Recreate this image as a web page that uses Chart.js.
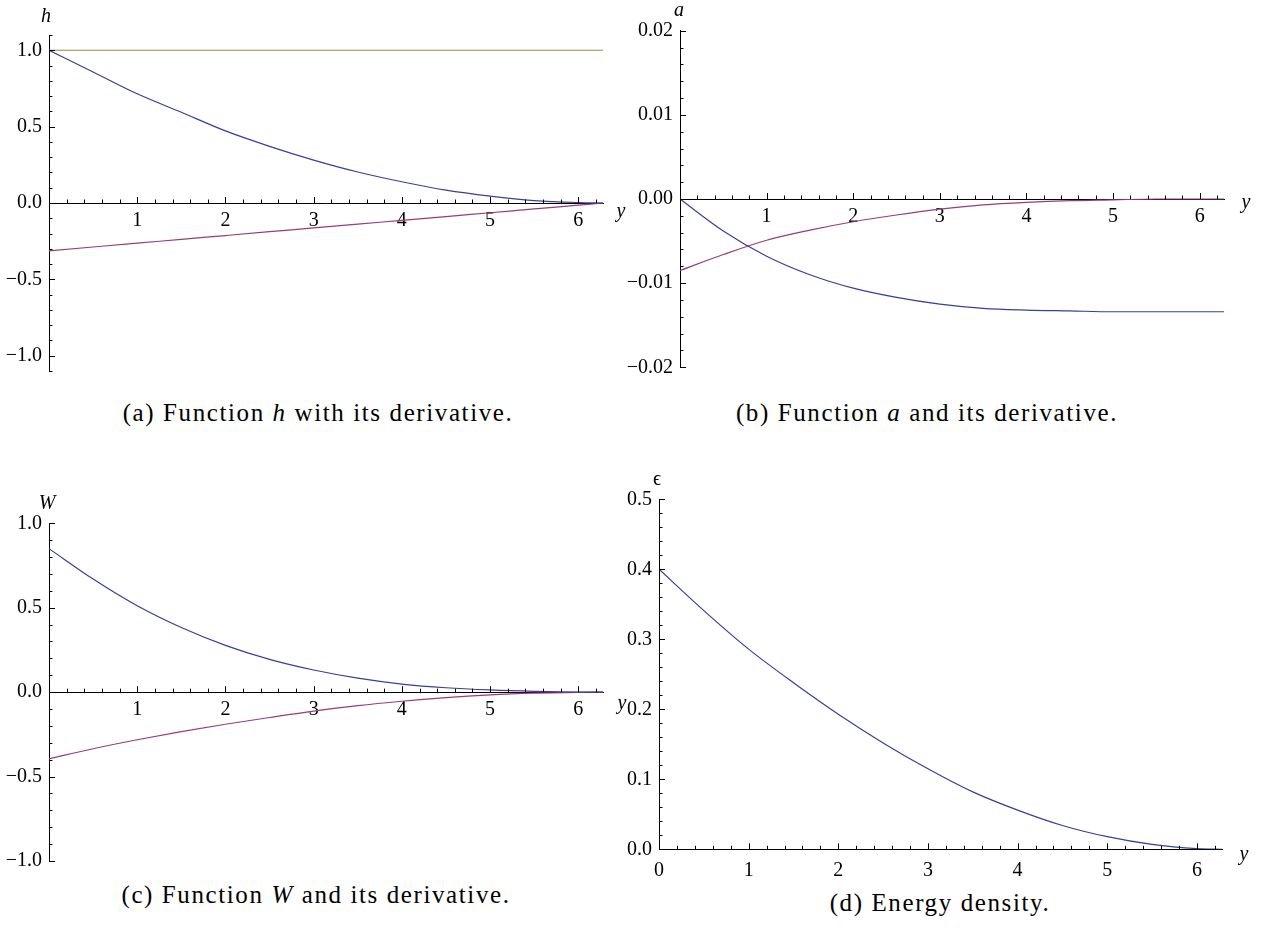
<!DOCTYPE html>
<html>
<head>
<meta charset="utf-8">
<script src="https://cdn.jsdelivr.net/npm/chart.js@4.4.0/dist/chart.umd.min.js"></script>
<style>
body { margin: 0; background: #fff; width: 1266px; height: 934px; position: relative; overflow: hidden; font-family: "Liberation Serif", "Times New Roman", serif; }
canvas { position: absolute; }
.lab { position: absolute; font-style: italic; font-size: 20px; transform: translate(-50%, -50%); white-space: nowrap; }
.cap { position: absolute; font-size: 25px; transform: translate(-50%, -50%); white-space: nowrap; letter-spacing: 1.6px; }
</style>
</head>
<body>
<canvas id="ca" width="633" height="390" style="left:0;top:0"></canvas>
<canvas id="cb" width="651" height="390" style="left:615px;top:0"></canvas>
<canvas id="cc" width="633" height="400" style="left:0;top:480px"></canvas>
<canvas id="cd" width="656" height="420" style="left:610px;top:460px"></canvas>

<div class="lab" style="left:46px;top:15px">h</div>
<div class="lab" style="left:621px;top:210px">y</div>
<div class="lab" style="left:679px;top:9px">a</div>
<div class="lab" style="left:1246px;top:201px">y</div>
<div class="lab" style="left:47px;top:502px">W</div>
<div class="lab" style="left:622px;top:702px">y</div>
<div class="lab" style="left:657px;top:478px;font-style:normal">ϵ</div>
<div class="lab" style="left:1244px;top:853px">y</div>

<div class="cap" style="left:318px;top:413px">(a) Function <i>h</i> with its derivative.</div>
<div class="cap" style="left:927px;top:413px">(b) Function <i>a</i> and its derivative.</div>
<div class="cap" style="left:316px;top:895px">(c) Function <i>W</i> and its derivative.</div>
<div class="cap" style="left:940px;top:903px">(d) Energy density.</div>

<script>
// sample positions along y (0 .. 2π)
const ys = [0, 0.5, 1, 1.5, 2, 2.5, 3, 3.5, 4, 4.5, 5, 5.5, 6, 6.28];

// (a) h, h' and the constant 1
const hVals  = [1.0, 0.858, 0.715, 0.594, 0.472, 0.371, 0.281, 0.203, 0.139, 0.084, 0.045, 0.016, 0.003, 0];
const hDeriv = [-0.313, -0.288, -0.263, -0.238, -0.213, -0.188, -0.163, -0.138, -0.114, -0.089, -0.064, -0.039, -0.014, 0];
const hOne   = [1, 1, 1, 1, 1, 1, 1, 1, 1, 1, 1, 1, 1, 1];

// (b) a, a'
const aVals  = [0, -0.0038, -0.0068, -0.0090, -0.0106, -0.0117, -0.0125, -0.0130, -0.0132, -0.0133, -0.0134, -0.0134, -0.0134, -0.0134];
const aDeriv = [-0.0085, -0.0066, -0.0049, -0.0037, -0.0027, -0.0019, -0.0012, -0.0007, -0.0004, -0.0002, -0.0001, 0, 0, 0];

// (c) W, W'
const wVals  = [0.850, 0.670, 0.512, 0.383, 0.277, 0.194, 0.131, 0.083, 0.048, 0.026, 0.013, 0.005, 0.001, 0];
const wDeriv = [-0.395, -0.335, -0.282, -0.234, -0.190, -0.150, -0.112, -0.080, -0.054, -0.032, -0.016, -0.006, -0.001, 0];

// (d) energy density
const eVals  = [0.400, 0.341, 0.286, 0.238, 0.193, 0.152, 0.115, 0.082, 0.056, 0.034, 0.018, 0.007, 0.001, 0];

// tick labels
const xTicks  = [1, 2, 3, 4, 5, 6];
const xTicksD = [0, 1, 2, 3, 4, 5, 6];
const yTicksA = [-1, -0.5, 0, 0.5, 1];
const yTicksB = [-0.02, -0.01, 0, 0.01, 0.02];
const yTicksC = [-1, -0.5, 0, 0.5, 1];
const yTicksD = [0, 0.1, 0.2, 0.3, 0.4, 0.5];

const blue = 'rgb(61,61,153)';
const magenta = 'rgb(153,61,113)';
const olive = 'rgb(153,140,61)';
const tickFont = { family: "'Liberation Serif', 'Times New Roman', serif", size: 20 };

function pts(vals) {
  return ys.map((v, i) => ({ x: v, y: vals[i] }));
}

function series(vals, color) {
  return {
    data: pts(vals), borderColor: color, borderWidth: 1.2,
    pointRadius: 0, fill: false, cubicInterpolationMode: 'monotone'
  };
}

// Mathematica style inward ticks, major + minor
const tickMarks = {
  id: 'tickMarks',
  afterDraw(chart, args, o) {
    const { ctx, chartArea } = chart;
    const x = chart.scales.x, y = chart.scales.y;
    const axisY = o.bottomAxis ? chartArea.bottom : y.getPixelForValue(0);
    const axisX = chartArea.left;
    ctx.save();
    ctx.strokeStyle = '#000';
    ctx.lineWidth = 1;
    ctx.beginPath();
    const nx = Math.floor(x.max / o.xMinor + 1e-6);
    for (let k = 1; k <= nx; k++) {
      const v = k * o.xMinor;
      const major = Math.abs(v - Math.round(v)) < 1e-6;
      const px = Math.round(x.getPixelForValue(v)) + 0.5;
      ctx.moveTo(px, axisY);
      ctx.lineTo(px, axisY - (major ? 6 : 3.5));
    }
    const k0 = Math.ceil(y.min / o.yMinor - 1e-6);
    const k1 = Math.floor(y.max / o.yMinor + 1e-6);
    for (let k = k0; k <= k1; k++) {
      const v = k * o.yMinor;
      const r = v / o.yMajor;
      const major = Math.abs(r - Math.round(r)) < 1e-6;
      const py = Math.round(y.getPixelForValue(v)) + 0.5;
      ctx.moveTo(axisX, py);
      ctx.lineTo(axisX + (major ? 6 : 3.5), py);
    }
    ctx.stroke();
    ctx.restore();
  }
};

function makeChart(id, datasets, s) {
  const minus = t => t.replace('-', '\u2212');
  new Chart(document.getElementById(id), {
    type: 'line',
    data: { datasets: datasets },
    options: {
      responsive: false,
      animation: false,
      layout: { padding: s.padding },
      plugins: {
        legend: { display: false },
        tooltip: { enabled: false },
        tickMarks: s.marks
      },
      scales: {
        x: {
          type: 'linear', min: 0, max: 6.28,
          position: s.marks.bottomAxis ? 'bottom' : { y: 0 },
          afterBuildTicks: sc => { sc.ticks = s.xTicks.map(v => ({ value: v })); },
          afterFit: sc => { if (s.xHeight) sc.height = s.xHeight; },
          ticks: {
            font: tickFont, color: '#000', padding: s.xPad,
            maxRotation: 0, autoSkip: false,
            callback: v => String(v)
          },
          grid: { display: true, drawOnChartArea: false, drawTicks: false },
          border: { color: '#000', width: 1 }
        },
        y: {
          type: 'linear', min: s.yMin, max: s.yMax, position: 'left',
          afterBuildTicks: sc => { sc.ticks = s.yTicks.map(v => ({ value: v })); },
          afterFit: sc => { sc.width = s.yWidth; },
          ticks: {
            font: tickFont, color: '#000', padding: 7, autoSkip: false,
            callback: v => minus(Number(v).toFixed(s.dec))
          },
          grid: { display: true, drawOnChartArea: false, drawTicks: false },
          border: { color: '#000', width: 1 }
        }
      }
    },
    plugins: [tickMarks]
  });
}

makeChart('ca', [series(hOne, olive), series(hVals, blue), series(hDeriv, magenta)], {
  padding: { top: 35, bottom: 12.3, right: 30, left: 0 },
  yMin: -1.1, yMax: 1.1, yTicks: yTicksA, yWidth: 49, dec: 1,
  xTicks: xTicks, xPad: 6,
  marks: { xMinor: 0.2, yMinor: 0.1, yMajor: 0.5 }
});

makeChart('cb', [series(aVals, blue), series(aDeriv, magenta)], {
  padding: { top: 30.7, bottom: 22.7, right: 42, left: 0 },
  yMin: -0.02, yMax: 0.02, yTicks: yTicksB, yWidth: 65, dec: 2,
  xTicks: xTicks, xPad: 6,
  marks: { xMinor: 0.2, yMinor: 0.002, yMajor: 0.01 }
});

makeChart('cc', [series(wVals, blue), series(wDeriv, magenta)], {
  padding: { top: 43.3, bottom: 13.3, right: 30, left: 0 },
  yMin: -1, yMax: 1, yTicks: yTicksC, yWidth: 49, dec: 1,
  xTicks: xTicks, xPad: 6,
  marks: { xMinor: 0.2, yMinor: 0.1, yMajor: 0.5 }
});

makeChart('cd', [series(eVals, blue)], {
  padding: { top: 39.3, bottom: 0, right: 44, left: 0 },
  yMin: 0, yMax: 0.5, yTicks: yTicksD, yWidth: 49, dec: 1,
  xTicks: xTicksD, xPad: 9, xHeight: 30.7,
  marks: { xMinor: 0.2, yMinor: 0.02, yMajor: 0.1, bottomAxis: true }
});
</script>
</body>
</html>
